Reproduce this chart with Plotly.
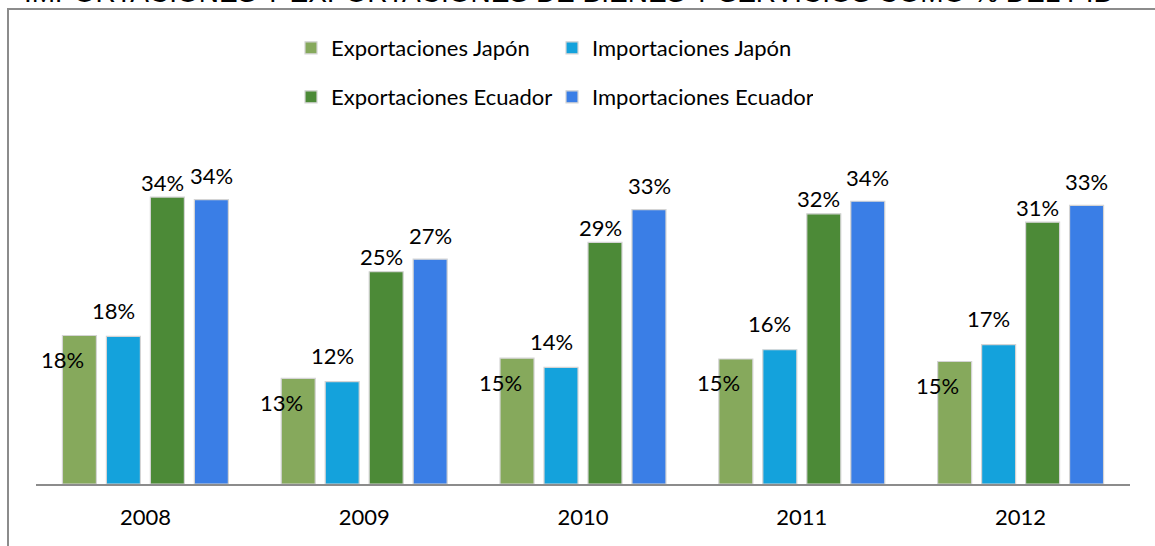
import plotly.graph_objects as go

years = ["2008", "2009", "2010", "2011", "2012"]
exp_japon = [0.177, 0.126, 0.150, 0.149, 0.146]
imp_japon = [0.176, 0.122, 0.139, 0.160, 0.166]
exp_ecuador = [0.342, 0.253, 0.288, 0.322, 0.312]
imp_ecuador = [0.339, 0.268, 0.327, 0.337, 0.332]
series_names = ["Exportaciones Japón", "Importaciones Japón",
                "Exportaciones Ecuador", "Importaciones Ecuador"]
title_text = "IMPORTACIONES Y EXPORTACIONES DE BIENES Y SERVICIOS COMO % DEL PIB"

W, H = 1155, 546
ML, MR, MT, MB = 36, 25, 140, 62
PW, PH = W - ML - MR, H - MT - MB

colors = ["#86a95c", "#14a2dc", "#4c8a37", "#3a7ee6"]
series = [exp_japon, imp_japon, exp_ecuador, imp_ecuador]
legend_ids = ["legend", "legend", "legend2", "legend2"]
bar_off = [-66, -22, 22, 66]
lab_dx = [-17, -10, -5, 0]
lab_dy = [-24, 26, 15, 24]

FONT = "Lato"
fig = go.Figure()
for i, (name, vals) in enumerate(zip(series_names, series)):
    fig.add_trace(go.Bar(
        x=years, y=vals, name=name,
        marker=dict(color=colors[i], line=dict(color="#d4d4d4", width=1.2)),
        legend=legend_ids[i],
    ))
    for j, v in enumerate(vals):
        fig.add_annotation(x=j, y=v, xref="x", yref="y",
                           text=f"{round(v*100):d}%", showarrow=False,
                           xshift=bar_off[i] + lab_dx[i], yshift=lab_dy[i],
                           yanchor="middle", xanchor="center",
                           font=dict(family=FONT, size=22, color="black"))

# cut-off title at top
fig.add_annotation(x=(568 - ML) / PW, y=1 + (MT - 10) / PH, xref="paper", yref="paper",
                   text=title_text, showarrow=False, xanchor="center", yanchor="bottom",
                   font=dict(family="Liberation Sans", size=28, color="black"))

# chart border
fig.add_shape(type="rect", xref="paper", yref="paper",
              x0=(8 - ML) / PW, x1=(1180 - ML) / PW,
              y0=-(600 - MT - PH) / PH, y1=1 + (MT - 9) / PH,
              line=dict(color="#8c8c8c", width=2), layer="below")

fig.update_layout(
    width=W, height=H,
    margin=dict(l=ML, r=MR, t=MT, b=MB),
    paper_bgcolor="white", plot_bgcolor="white",
    barmode="group", bargap=0.196, bargroupgap=0.227,
    showlegend=True,
    legend=dict(orientation="h", x=(291 - ML) / PW, y=1 + (MT - 48) / PH,
                xanchor="left", yanchor="middle", entrywidth=216,
                font=dict(family=FONT, size=22, color="black")),
    legend2=dict(orientation="h", x=(291 - ML) / PW, y=1 + (MT - 97) / PH,
                 xanchor="left", yanchor="middle", entrywidth=216,
                 font=dict(family=FONT, size=22, color="black")),
    xaxis=dict(type="category", range=[-0.5, len(years) - 0.5], autorange=False,
               showline=True, linecolor="#8c8c8c", linewidth=2,
               showgrid=False, ticks="outside", ticklen=13, tickcolor="white",
               tickfont=dict(family=FONT, size=22, color="black")),
    yaxis=dict(range=[0, 0.41], autorange=False, visible=False),
)

fig.write_html("out.html", config={"displayModeBar": False},
               post_script="document.body.style.margin='0px';")
